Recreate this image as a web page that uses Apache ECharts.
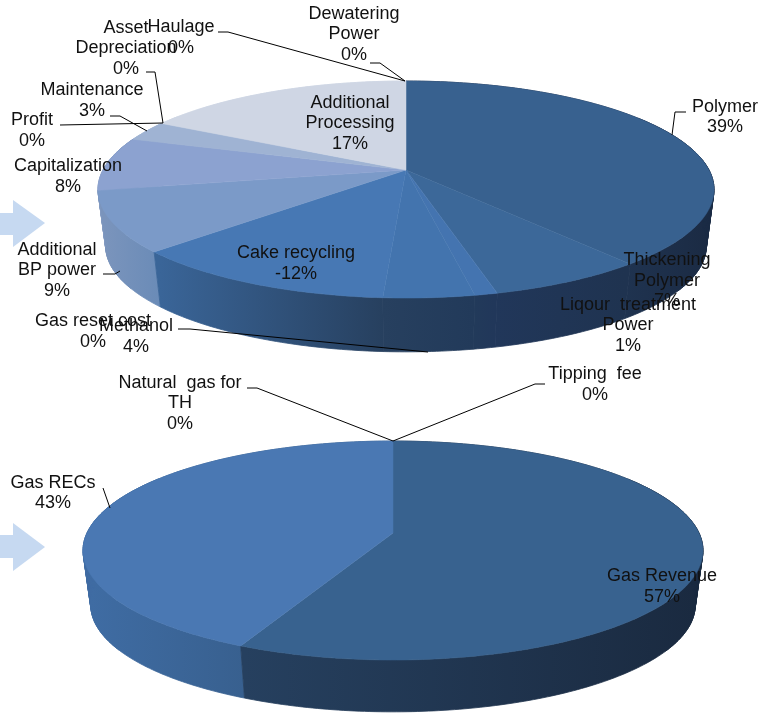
<!DOCTYPE html>
<html><head><meta charset="utf-8">
<style>html,body{margin:0;padding:0;background:#fff}#c{width:761px;height:713px}</style>
<script src="https://cdn.jsdelivr.net/npm/echarts@6/dist/echarts.min.js"></script>
</head><body><div id="c"></div>
<script>
// ---- data ----
const costCategories = ['Polymer','Thickening\nPolymer','Liqour  treatment\nPower','Methanol','Gas reset cost','Cake recycling','Additional\nBP power','Capitalization','Maintenance','Profit','Asset\nDepreciation','Additional\nProcessing','Haulage','Dewatering\nPower'];
const costValues = [39,7,1,4,0,-12,9,8,3,0,0,17,0,0];
const revenueCategories = ['Gas Revenue','Gas RECs','Tipping  fee','Natural  gas for\nTH'];
const revenueValues = [57,43,0,0];

// ---- styling / layout (kept apart from the data) ----
const costTop = ['#38618f','#3c6899','#4474b0','#4374ae','#4374ae','#4778b4','#7b9ac8','#8ca2d0','#9fb3d3','#a5b8d5','#a5b8d5','#cfd6e4','#cfd6e4','#cfd6e4'];
// wall colours run left -> right across the visible part of the slice
const costWall = [['#1f3350','#1b2b44'],['#21375a','#1f3350'],['#223a5a','#21375a'],['#27405f','#223a5a'],['#27405f','#27405f'],['#3a6598','#27405f'],['#7a94bc','#6a8bb7'],['#8ea3c8','#7a94bc'],['#a5b8d5','#a5b8d5'],['#a5b8d5','#a5b8d5'],['#a5b8d5','#a5b8d5'],['#cfd6e4','#cfd6e4'],['#cfd6e4','#cfd6e4'],['#cfd6e4','#cfd6e4']];
const revenueTop = ['#38628f','#4a78b3','#4a78b3','#4a78b3'];
const revenueWall = [['#26405f','#1a2a40'],['#3f6ca3','#38608f'],['#3f6ca3','#3f6ca3'],['#3f6ca3','#3f6ca3']];
const costGeom = {cx:406,cy:170,a:0.18,b:105,c:303,s:0.975,dy:57};
const revenueGeom = {cx:393,cy:533,a:0.16,b:106.7,c:306,s:0.975,dy:55};

const costLabelAt = [[725,117],[667,281],[628,325.5],[136,336.5],[93,331.5],[296,263.5],[57,270.5],[68,176.5],[92,100.5],[32,130.5],[126,48.5],[350,123.5],[181,37.5],[354,34.5]];
const revenueLabelAt = [[662,586.5],[53,493],[595,384.5],[180,403.5]];
const leaders = [
 [[370,63],[380,63],[405,81]],[[218,32],[228,32],[405,81]],[[146,72],[155,72],[163,123]],
 [[60,125],[163,123]],[[110,116],[120,116],[147,131]],[[103,274],[115,274],[120,271]],
 [[178,329],[190,329],[428,352]],[[686,112],[675,112],[672,135]],
 [[247,388],[257,388],[393,441]],[[545,384],[535,384],[393,441]],[[103,488],[110,508]]
];
const arrows = [
 [[0,213],[13,213],[13,200],[45,223],[13,247],[13,235],[0,235]],
 [[0,535],[13,535],[13,523],[45,547],[13,571],[13,558],[0,558]]
];

function pt(g,theta,base){
  const u=Math.sin(theta),v=Math.cos(theta),d=1+g.a*v;
  const s=base?g.s:1,dy=base?g.dy:0;
  return [g.cx+s*g.c*u/d, g.cy+dy-s*g.b*v/d];
}
function pieSeries(name,values,topC,wallC,g){
  const mags=values.map(Math.abs), total=mags.reduce((x,y)=>x+y,0);
  let acc=0;
  const rows=mags.map((m,i)=>{const r=[acc,acc+m,values[i]];acc+=m;return r;});
  return {
    name,type:'custom',coordinateSystem:'none',animation:false,silent:true,clip:false,data:rows,
    renderItem(params,api){
      const i=params.dataIndex, from=api.value(0)/total*2*Math.PI, to=api.value(1)/total*2*Math.PI;
      if(to-from<=0) return {type:'group',children:[]};
      const arc=[],n=Math.max(2,Math.ceil((to-from)/0.015));
      for(let k=0;k<=n;k++) arc.push(from+(to-from)*k/n);
      const topArc=arc.map(t=>pt(g,t,false)), baseArc=arc.map(t=>pt(g,t,true));
      // x-range of the part of the wall that faces the viewer drives the shading
      let xs=[];
      arc.forEach((t,k)=>{ if(Math.cos(t)<0.1) xs.push(baseArc[k][0]); });
      if(!xs.length) xs=baseArc.map(p=>p[0]);
      const x0=Math.min.apply(null,xs), x1=Math.max.apply(null,xs)+0.01;
      const tAt=x=>Math.min(1,Math.max(0,(x-x0)/(x1-x0)));
      const children=[];
      // small fillers keep the silhouette straight where the wall turns away at each side
      for(let k=0;k<n;k++){
        if(Math.abs(Math.cos(arc[k]))>0.55) continue;
        const col=echarts.color.lerp(tAt(baseArc[k][0]),wallC[i]);
        children.push({type:'polygon',z2:5,shape:{points:[topArc[k],topArc[k+1],baseArc[k+1],baseArc[k]]},
          style:{fill:col,stroke:col,lineWidth:0.6}});
      }
      const grad=()=>({type:'linear',global:true,x:x0,y:0,x2:x1,y2:0,colorStops:[{offset:0,color:wallC[i][0]},{offset:1,color:wallC[i][1]}]});
      children.push({type:'polygon',z2:Math.round(30-20*Math.cos((from+to)/2)),
        shape:{points:topArc.concat(baseArc.slice().reverse())},
        style:{fill:grad(),stroke:grad(),lineWidth:0.8}});
      children.push({type:'polygon',z2:60,shape:{points:[[g.cx,g.cy]].concat(topArc)},
         style:{fill:topC[i],stroke:topC[i],lineWidth:0.5}});
      return {type:'group',children};
    }
  };
}
function labelSeries(name,cats,values,pos){
  return {
    name,type:'custom',coordinateSystem:'none',animation:false,silent:true,z:10,
    data:values.map((v,i)=>[v,i]),
    renderItem(params,api){
      const i=params.dataIndex;
      return {type:'text',z2:100,style:{x:pos[i][0],y:pos[i][1],text:cats[i]+'\n'+api.value(0)+'%',
        fill:'#111',font:'18px "Liberation Sans", Arial, sans-serif',lineHeight:20.5,
        align:'center',verticalAlign:'middle'}};
    }
  };
}
const chart=echarts.init(document.getElementById('c'),null,{renderer:'canvas'});
chart.setOption({
  animation:false,backgroundColor:'#fff',
  graphic:{elements:[
    ...arrows.map(p=>({type:'polygon',silent:true,z:0,shape:{points:p},style:{fill:'#c6d9f1'}})),
    ...leaders.map(p=>({type:'polyline',silent:true,z:5,shape:{points:p},style:{stroke:'#000',lineWidth:1,fill:null}}))
  ]},
  series:[
    pieSeries('Costs',costValues,costTop,costWall,costGeom),
    pieSeries('Revenue',revenueValues,revenueTop,revenueWall,revenueGeom),
    labelSeries('Cost labels',costCategories,costValues,costLabelAt),
    labelSeries('Revenue labels',revenueCategories,revenueValues,revenueLabelAt)
  ]
});
</script></body></html>
